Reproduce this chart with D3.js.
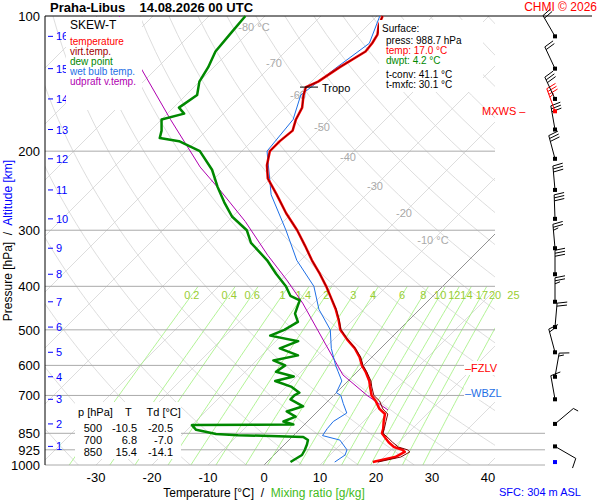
<!DOCTYPE html>
<html>
<head>
<meta charset="utf-8">
<script src="https://cdn.jsdelivr.net/npm/d3@7"></script>
<style>
  body { margin: 0; background: #fff; }
  text { font-family: "Liberation Sans", Arial, sans-serif; }
</style>
</head>
<body>
<script>
// sounding data (p in hPa, values in °C)
var tempP = [985, 960, 935, 925, 912, 890, 870, 850, 830, 800, 770, 750, 720, 700, 670, 650, 620, 600, 575, 550, 525, 500, 475, 450, 425, 400, 375, 350, 325, 300, 275, 250, 230, 215, 200, 190, 180, 170, 160, 150, 144, 140, 130, 120, 115, 110, 105, 100];
var tempT = [18.9, 22.0, 22.8, 22.0, 20.0, 18.2, 16.8, 15.4, 14.8, 13.6, 12.5, 10.6, 8.5, 6.8, 5.0, 3.8, 1.5, -0.3, -2.2, -4.6, -7.6, -10.5, -12.6, -15.0, -17.8, -20.8, -24.2, -28.0, -31.8, -36.0, -41.0, -46.0, -50.5, -53.0, -55.0, -55.0, -54.6, -56.0, -57.0, -59.0, -60.0, -58.8, -57.5, -55.7, -56.0, -56.6, -58.0, -59.0];
var virtT = [19.8, 23.0, 23.7, 22.9, 20.8, 18.9, 17.3, 15.6, 15.0, 14.0, 13.0, 11.2, 9.2, 7.2, 5.3, 4.1, 1.7, -0.1, -2.0, -4.5, -7.5, -10.4, -12.5, -14.9, -17.8, -20.8, -24.2, -28.0, -31.8, -36.0, -41.0, -46.0, -50.5, -53.0, -55.0, -55.0, -54.6, -56.0, -57.0, -59.0, -60.0, -58.8, -57.5, -55.7, -56.0, -56.6, -58.0, -59.0];

var dewP = [985, 950, 926, 900, 880, 866, 858, 853, 835, 815, 812, 800, 780, 760, 740, 714, 700, 690, 670, 650, 635, 620, 600, 585, 570, 550, 530, 515, 500, 480, 460, 440, 430, 420, 400, 375, 350, 320, 300, 280, 260, 240, 220, 200, 190, 187, 180, 170, 165, 160, 150, 140, 130, 120, 110, 100];
var dewT = [4.2, 5.0, 4.6, 4.0, 3.4, 2.0, -10.0, -14.1, -18.4, -20.0, -2.0, -4.3, -3.0, -5.5, -3.5, -7.0, -7.0, -6.6, -9.0, -13.0, -10.5, -14.5, -14.0, -17.0, -13.5, -18.0, -16.0, -22.0, -20.5, -19.5, -21.5, -22.5, -23.0, -25.5, -28.0, -32.0, -36.0, -42.0, -45.0, -50.0, -54.0, -58.0, -62.0, -67.5, -73.0, -77.0, -78.0, -80.0, -77.0, -79.0, -78.0, -80.0, -81.0, -82.5, -83.0, -83.5];

var wetP = [985, 950, 925, 880, 860, 830, 800, 766, 730, 700, 690, 650, 620, 600, 550, 500, 450, 400, 350, 300, 250, 200, 170, 150, 130, 115, 100];
var wetT = [12.1, 12.7, 12.1, 9.1, 5.2, 4.8, 4.6, 5.5, 3.2, 1.3, 0.0, -1.1, -3.4, -5.0, -8.8, -12.3, -18.0, -23.0, -30.7, -38.0, -47.0, -55.5, -56.5, -59.5, -58.0, -56.5, -59.5];

var parcelP = [754, 700, 630, 546, 436, 387, 341, 287, 244, 217, 170, 131, 100];
var parcelT = [12.3, 6.0, -2.0, -9.8, -22.0, -29.0, -36.8, -46.8, -57.0, -64.6, -78.4, -92.7, -106.0];

// km altitudes (pressure of each km level) and wind at those levels
var kmLabels = [1, 2, 3, 4, 5, 6, 7, 8, 9, 10, 11, 12, 13, 14, 15, 16];
var kmP = [909, 810, 714, 636, 561, 493, 433, 376, 329, 283, 244, 208, 179, 153, 131, 111];
var windP = [985, 909, 810, 714, 636, 561, 493, 433, 376, 329, 283, 244, 208, 179, 163, 153, 131, 111];
var windDir = [0, 120, 50, 350, 10, 345, 5, 0, 0, 355, 358, 355, 345, 350, 340, 335, 335, 330];
var windSpd = [0, 10, 5, 10, 15, 15, 20, 25, 30, 25, 30, 30, 30, 30, 35, 30, 20, 20];
var windMax = [false, false, false, false, false, false, false, false, false, false, false, false, false, false, true, false, false, false];

var pressureTicks = [100, 200, 300, 400, 500, 600, 700, 850, 925, 1000];
var tempTicks = [-30, -20, -10, 0, 10, 20, 30, 40];
var isoLabelT = [-80, -70, -60, -50, -40, -30, -20, -10];
var isoLabelY = [27, 63, 95, 127, 157, 186, 213, 240];
var mixRatios = [0.2, 0.4, 0.6, 1, 1.4, 2, 3, 4, 6, 8, 10, 12, 14, 17, 20, 25];

var tableP = [500, 700, 850];
var tableT = [-10.5, 6.8, 15.4];
var tableTd = [-20.5, -7.0, -14.1];

var width = 600, height = 500;
var plot = { left: 45, right: 495, top: 16, bottom: 465 };

var y = d3.scaleLog().domain([100, 1000]).range([plot.top, plot.bottom]);
var x = d3.scaleLinear().domain([-30, 40]).range([96, 488]);
function sx(t, p) { return x(t) + (plot.bottom - y(p)); }

var svg = d3.select("body").append("svg")
  .attr("width", width).attr("height", height);

svg.append("clipPath").attr("id", "clip")
  .append("rect").attr("x", plot.left).attr("y", plot.top)
  .attr("width", plot.right - plot.left).attr("height", plot.bottom - plot.top);

var grid = svg.append("g").attr("clip-path", "url(#clip)");
var pLevels = d3.range(100, 1001, 10);
var line = d3.line().x(d => d[0]).y(d => d[1]);

// dry adiabats
d3.range(240, 471, 10).forEach(function(th) {
  grid.append("path")
    .attr("d", line(pLevels.map(p => [sx(th * Math.pow(p / 1000, 0.286) - 273.15, p), y(p)])))
    .attr("fill", "none").attr("stroke", "#d4d4d4").attr("stroke-width", 0.8);
});

// isotherms
d3.range(-150, 50, 10).forEach(function(t) {
  grid.append("line")
    .attr("x1", sx(t, 1000)).attr("y1", y(1000))
    .attr("x2", sx(t, 100)).attr("y2", y(100))
    .attr("stroke", t === 0 ? "#777" : "#d4d4d4").attr("stroke-width", 0.8);
});

// mixing ratio lines
function tdFromW(w, p) {
  var e = w * p / (622 + w);
  var l = Math.log(e / 6.112);
  return 243.5 * l / (17.67 - l);
}
var mixP = d3.range(400, 1001, 10);
mixRatios.forEach(function(w) {
  grid.append("path")
    .attr("d", line(mixP.map(p => [sx(tdFromW(w, p), p), y(p)])))
    .attr("fill", "none").attr("stroke", "#9ef07a").attr("stroke-width", 0.8);
  svg.append("text")
    .attr("x", sx(tdFromW(w, 418), 418)).attr("y", y(418) + 4)
    .attr("text-anchor", "middle").attr("font-size", 11).attr("fill", "#9acd32")
    .text(w);
});

// pressure lines
pressureTicks.forEach(function(p) {
  svg.append("line")
    .attr("x1", plot.left).attr("x2", p === 100 ? 592 : (p >= 850 ? 545 : plot.right))
    .attr("y1", y(p)).attr("y2", y(p))
    .attr("stroke", p === 100 ? "#000" : "#aaa").attr("stroke-width", 1);
  svg.append("text")
    .attr("x", 40).attr("y", y(p) + 5)
    .attr("text-anchor", "end").attr("font-size", 13).text(p);
});

// isotherm labels
isoLabelT.forEach(function(t, i) {
  var py = y.invert(isoLabelY[i]);
  svg.append("text")
    .attr("x", sx(t, py)).attr("y", isoLabelY[i] + 4)
    .attr("text-anchor", "middle").attr("font-size", 11).attr("fill", "#aaa")
    .text(t + ((i === 0 || i === isoLabelT.length - 1) ? " °C" : ""));
});

// left axis
svg.append("line").attr("x1", plot.left).attr("x2", plot.left)
  .attr("y1", plot.top).attr("y2", plot.bottom).attr("stroke", "#000");

// km ticks
kmLabels.forEach(function(k, i) {
  var yy = y(kmP[i]);
  svg.append("line").attr("x1", 48).attr("x2", 53).attr("y1", yy).attr("y2", yy)
    .attr("stroke", "#00f");
  svg.append("text").attr("x", 56).attr("y", yy + 4)
    .attr("font-size", 11).attr("fill", "#00f").text(k);
});

// bottom tick labels
tempTicks.forEach(function(t) {
  svg.append("text").attr("x", x(t)).attr("y", 482)
    .attr("text-anchor", "middle").attr("font-size", 13).text(t);
});

// profiles
function profile(ps, ts, color, w) {
  svg.append("path")
    .attr("d", line(ps.map((p, i) => [sx(ts[i], p), y(p)])))
    .attr("fill", "none").attr("stroke", color).attr("stroke-width", w)
    .attr("stroke-linejoin", "round");
}
profile(parcelP, parcelT, "#b000b0", 1);
profile(wetP, wetT, "#1e6fe6", 1);
profile(dewP, dewT, "#008800", 2.5);
profile(tempP, tempT, "#ff0000", 2.5);
profile(tempP, virtT, "#800000", 1);

// tropopause marker
var tropoY = y(144);
svg.append("line").attr("x1", 300).attr("x2", 318).attr("y1", tropoY).attr("y2", tropoY)
  .attr("stroke", "#000");
svg.append("text").attr("x", 322).attr("y", tropoY + 5).attr("font-size", 11).text("Tropo");

// level markers
svg.append("text").attr("x", 482).attr("y", y(163) + 4).attr("font-size", 11)
  .attr("fill", "#f00").text("MXWS –");
svg.append("rect").attr("x", 464).attr("y", y(608) - 7).attr("width", 40).attr("height", 14).attr("fill", "#fff");
svg.append("text").attr("x", 465).attr("y", y(608) + 4).attr("font-size", 11)
  .attr("fill", "#f00").text("–FZLV");
svg.append("rect").attr("x", 464).attr("y", y(690) - 7).attr("width", 40).attr("height", 14).attr("fill", "#fff");
svg.append("text").attr("x", 465).attr("y", y(690) + 4).attr("font-size", 11)
  .attr("fill", "#1e6fe6").text("–WBZL");

// wind barbs
var windX = 555;
windP.forEach(function(p, i) {
  var yy = y(p);
  var col = windMax[i] ? "#f00" : "#000";
  if (windSpd[i] === 0) {
    svg.append("rect").attr("x", windX - 2).attr("y", yy - 2).attr("width", 4).attr("height", 4).attr("fill", "#00f");
    return;
  }
  var a = windDir[i] * Math.PI / 180;
  var dx = Math.sin(a), dy = -Math.cos(a);
  var L = 24;
  var ex = windX + dx * L, ey = yy + dy * L;
  svg.append("line").attr("x1", windX).attr("y1", yy).attr("x2", ex).attr("y2", ey)
    .attr("stroke", col).attr("stroke-width", 1);
  svg.append("rect").attr("x", windX - 2).attr("y", yy - 2).attr("width", 4).attr("height", 4).attr("fill", col);
  // barbs on the clockwise side
  var px = -dy, py = dx;
  var spd = windSpd[i], k = 0;
  while (spd >= 5) {
    var len = spd >= 10 ? 10 : 5;
    var bx = ex - dx * k * 3, by = ey - dy * k * 3;
    svg.append("line").attr("x1", bx).attr("y1", by)
      .attr("x2", bx + px * len + dx * 2).attr("y2", by + py * len + dy * 2)
      .attr("stroke", col).attr("stroke-width", 1);
    spd -= spd >= 10 ? 10 : 5;
    k++;
  }
});

// legend
svg.append("rect").attr("x", 66).attr("y", 17).attr("width", 76).attr("height", 93).attr("fill", "#fff");
var legend = [["SKEW-T", "#000", 12], ["temperature", "#f00", 10], ["virt.temp.", "#a00000", 10],
  ["dew point", "#008800", 10], ["wet bulb temp.", "#1e6fe6", 10], ["udpraft v.temp.", "#b000b0", 10]];
legend.forEach(function(d, i) {
  svg.append("text").attr("x", 70).attr("y", i === 0 ? 29 : 35 + i * 10)
    .attr("font-size", d[2]).attr("fill", d[1]).text(d[0]);
});

// surface box
svg.append("rect").attr("x", 379).attr("y", 20).attr("width", 104).attr("height", 72).attr("fill", "#fff");
var surf = [["Surface:", "#000", 382, 32], ["press: 988.7 hPa", "#000", 386, 44], ["temp: 17.0 °C", "#f00", 386, 54],
  ["dwpt: 4.2 °C", "#008800", 386, 64], ["t-conv: 41.1 °C", "#000", 386, 78], ["t-mxfc: 30.1 °C", "#000", 386, 88]];
surf.forEach(function(d) {
  svg.append("text").attr("x", d[2]).attr("y", d[3]).attr("font-size", 10).attr("fill", d[1]).text(d[0]);
});

// table
svg.append("rect").attr("x", 75).attr("y", 402).attr("width", 106).attr("height", 57).attr("fill", "#fff");
svg.append("text").attr("x", 78).attr("y", 416).attr("font-size", 11).attr("xml:space", "preserve")
  .text("p [hPa]    T     Td [°C]");
tableP.forEach(function(p, i) {
  var yy = 432 + i * 12;
  svg.append("text").attr("x", 102).attr("y", yy).attr("font-size", 11).attr("text-anchor", "end").text(p);
  svg.append("text").attr("x", 137).attr("y", yy).attr("font-size", 11).attr("text-anchor", "end").text(tableT[i].toFixed(1));
  svg.append("text").attr("x", 173).attr("y", yy).attr("font-size", 11).attr("text-anchor", "end").text(tableTd[i].toFixed(1));
});

// titles
svg.append("text").attr("x", 50).attr("y", 12).attr("font-size", 13).attr("font-weight", "bold")
  .attr("xml:space", "preserve").text("Praha-Libus    14.08.2026 00 UTC");
svg.append("text").attr("x", 597).attr("y", 11).attr("font-size", 12).attr("text-anchor", "end")
  .attr("fill", "#f00").text("CHMI © 2026");
svg.append("text").attr("x", 540).attr("y", 496).attr("font-size", 11).attr("text-anchor", "middle")
  .attr("fill", "#00f").text("SFC: 304 m ASL");

var xt = svg.append("text").attr("x", 264).attr("y", 497).attr("font-size", 12).attr("text-anchor", "middle")
  .attr("xml:space", "preserve");
xt.append("tspan").text("Temperature [°C]  /  ");
xt.append("tspan").attr("fill", "#44bb22").text("Mixing ratio [g/kg]");

var yt = svg.append("text").attr("transform", "translate(12," + (plot.top + plot.bottom) / 2 + ") rotate(-90)")
  .attr("font-size", 12).attr("text-anchor", "middle").attr("xml:space", "preserve");
yt.append("tspan").text("Pressure [hPa]  /  ");
yt.append("tspan").attr("fill", "#00f").text("Altitude [km]");
</script>
</body>
</html>
